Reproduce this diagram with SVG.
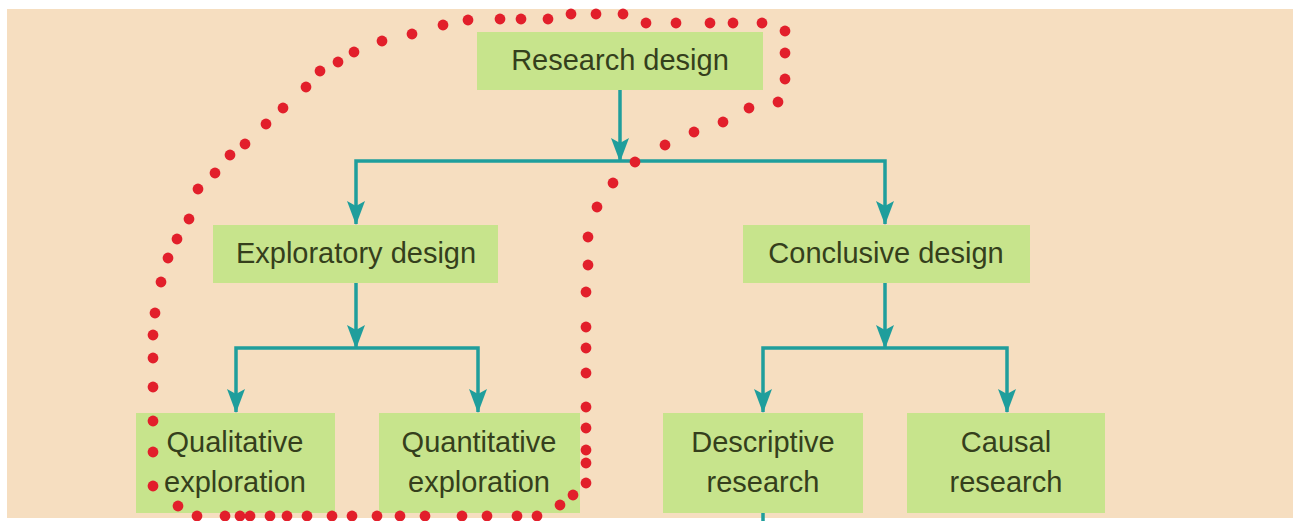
<svg xmlns="http://www.w3.org/2000/svg" width="1297" height="521" viewBox="0 0 1297 521">
  <style>
    .box { fill: #C7E48C; }
    .label { font-family: "Liberation Sans", Arial, sans-serif; font-size: 29px; fill: #353F1C; text-anchor: middle; }
    .link { fill: none; stroke: #1F9E9C; stroke-width: 3.5; }
    .dot circle { fill: #E21F2B; r: 5.4px; }
  </style>
  <defs>
    <marker id="arrow" viewBox="0 0 24 18" refX="23" refY="9" markerWidth="24" markerHeight="18" markerUnits="userSpaceOnUse" orient="auto">
      <path d="M0,0 L24,9 L0,18 L5,9 z" fill="#1F9E9C"/>
    </marker>
  </defs>

  <!-- page -->
  <rect x="0" y="0" width="1297" height="521" fill="#FFFFFF"/>
  <rect x="7" y="9" width="1286" height="509" fill="#F6DEC0"/>

  <!-- connectors -->
  <g id="connectors">
    <path class="link" d="M620,90 V161" marker-end="url(#arrow)"/>
    <path class="link" d="M620,161 H356 V224" marker-end="url(#arrow)"/>
    <path class="link" d="M620,161 H885 V224" marker-end="url(#arrow)"/>
    <path class="link" d="M356,283 V348" marker-end="url(#arrow)"/>
    <path class="link" d="M356,348 H236 V412" marker-end="url(#arrow)"/>
    <path class="link" d="M356,348 H478 V412" marker-end="url(#arrow)"/>
    <path class="link" d="M885,283 V348" marker-end="url(#arrow)"/>
    <path class="link" d="M885,348 H763 V412" marker-end="url(#arrow)"/>
    <path class="link" d="M885,348 H1007 V412" marker-end="url(#arrow)"/>
    <path class="link" d="M763,513 V521"/>
  </g>

  <!-- nodes -->
  <g id="research-design">
    <rect class="box" x="477" y="32" width="286" height="58"/>
    <text class="label" x="620" y="70">Research design</text>
  </g>
  <g id="exploratory-design">
    <rect class="box" x="213" y="225" width="285" height="58"/>
    <text class="label" x="356" y="263">Exploratory design</text>
  </g>
  <g id="conclusive-design">
    <rect class="box" x="743" y="225" width="287" height="58"/>
    <text class="label" x="886" y="263">Conclusive design</text>
  </g>
  <g id="qualitative-exploration">
    <rect class="box" x="136" y="413" width="199" height="100"/>
    <text class="label" x="235" y="452">Qualitative</text>
    <text class="label" x="235" y="492">exploration</text>
  </g>
  <g id="quantitative-exploration">
    <rect class="box" x="379" y="413" width="201" height="100"/>
    <text class="label" x="479" y="452">Quantitative</text>
    <text class="label" x="479" y="492">exploration</text>
  </g>
  <g id="descriptive-research">
    <rect class="box" x="663" y="413" width="200" height="100"/>
    <text class="label" x="763" y="452">Descriptive</text>
    <text class="label" x="763" y="492">research</text>
  </g>
  <g id="causal-research">
    <rect class="box" x="907" y="413" width="198" height="100"/>
    <text class="label" x="1006" y="452">Causal</text>
    <text class="label" x="1006" y="492">research</text>
  </g>

  <!-- hand-drawn dotted outline round the exploratory branch -->
  <g id="dotted-outline" class="dot">
    <circle cx="197" cy="516" r="5.4"/>
    <circle cx="178" cy="506" r="5.4"/>
    <circle cx="153" cy="486" r="5.4"/>
    <circle cx="153" cy="452" r="5.4"/>
    <circle cx="153" cy="421" r="5.4"/>
    <circle cx="153" cy="387" r="5.4"/>
    <circle cx="153" cy="358" r="5.4"/>
    <circle cx="153" cy="335" r="5.4"/>
    <circle cx="155" cy="313" r="5.4"/>
    <circle cx="161" cy="282" r="5.4"/>
    <circle cx="168" cy="258" r="5.4"/>
    <circle cx="177" cy="239" r="5.4"/>
    <circle cx="189" cy="219" r="5.4"/>
    <circle cx="198" cy="189" r="5.4"/>
    <circle cx="215" cy="173" r="5.4"/>
    <circle cx="230" cy="155" r="5.4"/>
    <circle cx="245" cy="144" r="5.4"/>
    <circle cx="266" cy="124" r="5.4"/>
    <circle cx="283" cy="108" r="5.4"/>
    <circle cx="306" cy="87" r="5.4"/>
    <circle cx="320" cy="71" r="5.4"/>
    <circle cx="338" cy="62" r="5.4"/>
    <circle cx="354" cy="52" r="5.4"/>
    <circle cx="382" cy="41" r="5.4"/>
    <circle cx="412" cy="34" r="5.4"/>
    <circle cx="443" cy="25" r="5.4"/>
    <circle cx="468" cy="20" r="5.4"/>
    <circle cx="500" cy="19" r="5.4"/>
    <circle cx="521" cy="19" r="5.4"/>
    <circle cx="548" cy="19" r="5.4"/>
    <circle cx="571" cy="14" r="5.4"/>
    <circle cx="596" cy="14" r="5.4"/>
    <circle cx="623" cy="14" r="5.4"/>
    <circle cx="646" cy="23" r="5.4"/>
    <circle cx="676" cy="23" r="5.4"/>
    <circle cx="710" cy="23" r="5.4"/>
    <circle cx="733" cy="23" r="5.4"/>
    <circle cx="762" cy="23" r="5.4"/>
    <circle cx="785" cy="31" r="5.4"/>
    <circle cx="785" cy="53" r="5.4"/>
    <circle cx="785" cy="79" r="5.4"/>
    <circle cx="778" cy="102" r="5.4"/>
    <circle cx="749" cy="108" r="5.4"/>
    <circle cx="723" cy="122" r="5.4"/>
    <circle cx="694" cy="132" r="5.4"/>
    <circle cx="665" cy="145" r="5.4"/>
    <circle cx="635" cy="162" r="5.4"/>
    <circle cx="613" cy="183" r="5.4"/>
    <circle cx="597" cy="207" r="5.4"/>
    <circle cx="588" cy="237" r="5.4"/>
    <circle cx="588" cy="265" r="5.4"/>
    <circle cx="586" cy="292" r="5.4"/>
    <circle cx="586" cy="327" r="5.4"/>
    <circle cx="586" cy="348" r="5.4"/>
    <circle cx="586" cy="373" r="5.4"/>
    <circle cx="586" cy="407" r="5.4"/>
    <circle cx="586" cy="428" r="5.4"/>
    <circle cx="586" cy="450" r="5.4"/>
    <circle cx="586" cy="463" r="5.4"/>
    <circle cx="586" cy="483" r="5.4"/>
    <circle cx="573" cy="495" r="5.4"/>
    <circle cx="560" cy="505" r="5.4"/>
    <circle cx="537" cy="516" r="5.4"/>
    <circle cx="517" cy="516" r="5.4"/>
    <circle cx="487" cy="516" r="5.4"/>
    <circle cx="462" cy="516" r="5.4"/>
    <circle cx="425" cy="516" r="5.4"/>
    <circle cx="400" cy="516" r="5.4"/>
    <circle cx="377" cy="516" r="5.4"/>
    <circle cx="352" cy="516" r="5.4"/>
    <circle cx="332" cy="516" r="5.4"/>
    <circle cx="307" cy="516" r="5.4"/>
    <circle cx="287" cy="516" r="5.4"/>
    <circle cx="270" cy="516" r="5.4"/>
    <circle cx="250" cy="516" r="5.4"/>
    <circle cx="240" cy="516" r="5.4"/>
    <circle cx="225" cy="516" r="5.4"/>
  </g>
</svg>
